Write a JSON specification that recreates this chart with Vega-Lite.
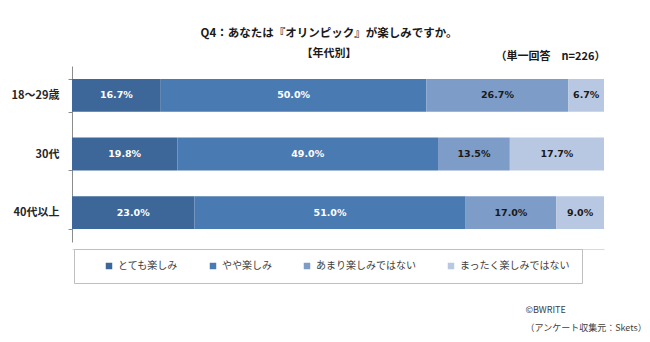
{
  "$schema": "https://vega.github.io/schema/vega-lite/v6.json",
  "width": 532,
  "height": 176,
  "autosize": {"type": "none"},
  "padding": {"left": 72, "top": 66, "right": 46, "bottom": 100},
  "background": "white",
  "title": {
    "text": "Q4：あなたは『オリンピック』が楽しみですか。",
    "subtitle": "【年代別】",
    "anchor": "middle",
    "frame": "group",
    "dx": -9,
    "offset": -9,
    "font": "Noto Sans CJK JP",
    "fontSize": 11.5,
    "fontWeight": "bold",
    "color": "#1a1a1a",
    "subtitleFont": "Noto Sans CJK JP",
    "subtitleFontSize": 11,
    "subtitleFontWeight": "bold",
    "subtitleColor": "#1a1a1a",
    "subtitlePadding": 9
  },
  "config": {"view": {"stroke": null}},
  "data": {
    "values": [
      {"age": "18～29歳", "cat": "とても楽しみ", "idx": 1, "value": 0.167},
      {"age": "18～29歳", "cat": "やや楽しみ", "idx": 2, "value": 0.5},
      {"age": "18～29歳", "cat": "あまり楽しみではない", "idx": 3, "value": 0.267},
      {"age": "18～29歳", "cat": "まったく楽しみではない", "idx": 4, "value": 0.067},
      {"age": "30代", "cat": "とても楽しみ", "idx": 1, "value": 0.198},
      {"age": "30代", "cat": "やや楽しみ", "idx": 2, "value": 0.49},
      {"age": "30代", "cat": "あまり楽しみではない", "idx": 3, "value": 0.135},
      {"age": "30代", "cat": "まったく楽しみではない", "idx": 4, "value": 0.177},
      {"age": "40代以上", "cat": "とても楽しみ", "idx": 1, "value": 0.23},
      {"age": "40代以上", "cat": "やや楽しみ", "idx": 2, "value": 0.51},
      {"age": "40代以上", "cat": "あまり楽しみではない", "idx": 3, "value": 0.17},
      {"age": "40代以上", "cat": "まったく楽しみではない", "idx": 4, "value": 0.09}
    ]
  },
  "encoding": {
    "y": {
      "field": "age",
      "type": "nominal",
      "sort": ["18～29歳", "30代", "40代以上"],
      "scale": {"paddingInner": 0.44, "paddingOuter": 0.22},
      "axis": {
        "title": "（単一回答　n=226）",
        "titleAngle": 0,
        "titleX": 423,
        "titleY": -10,
        "titleAlign": "left",
        "titleBaseline": "middle",
        "titleFont": "Noto Sans CJK JP",
        "titleFontSize": 11,
        "titleFontWeight": "bold",
        "titleColor": "#1a1a1a",
        "domainColor": "#8c8c8c",
        "tickColor": "#8c8c8c",
        "tickSize": 4,
        "tickBand": "extent",
        "labelPadding": 9,
        "labelFont": "Noto Sans CJK JP",
        "labelFontSize": 11,
        "labelFontWeight": "bold",
        "labelColor": "#262626",
        "grid": false
      }
    }
  },
  "layer": [
    {
      "mark": {"type": "bar"},
      "encoding": {
        "x": {
          "field": "value",
          "type": "quantitative",
          "stack": "normalize",
          "axis": {
            "offset": 7,
            "domainColor": "#d9d9d9",
            "labels": false,
            "ticks": false,
            "grid": false,
            "title": ["©BWRITE", "（アンケート収集元：Skets）"],
            "titleX": 453,
            "titleY": 56,
            "titleAlign": "left",
            "titleBaseline": "top",
            "titleFont": "Noto Sans CJK JP",
            "titleFontSize": 9,
            "titleFontWeight": "normal",
            "titleColor": "#404040",
            "titleLineHeight": 18
          }
        },
        "color": {
          "field": "cat",
          "type": "nominal",
          "scale": {
            "domain": ["とても楽しみ", "やや楽しみ", "あまり楽しみではない", "まったく楽しみではない"],
            "range": ["#3d6799", "#4a7ab2", "#7e9cc8", "#b9c8e2"]
          },
          "legend": {
            "orient": "none",
            "legendX": 2,
            "legendY": 183,
            "direction": "horizontal",
            "title": " ",
            "titleOrient": "left",
            "titlePadding": 18,
            "titleFontSize": 10,
            "padding": 12,
            "columnPadding": 30,
            "labelOffset": 4,
            "symbolType": "square",
            "symbolSize": 42,
            "symbolStrokeWidth": 0,
            "labelFont": "Noto Sans CJK JP",
            "labelFontSize": 10,
            "labelColor": "#404040",
            "strokeColor": "#bfbfbf",
            "fillColor": "white"
          }
        },
        "order": {"field": "idx", "type": "quantitative"}
      }
    },
    {
      "mark": {"type": "text", "font": "DejaVu Sans", "fontSize": 9.5, "fontWeight": "bold"},
      "encoding": {
        "x": {"field": "value", "type": "quantitative", "stack": "normalize", "bandPosition": 0.5},
        "detail": {"field": "cat", "type": "nominal"},
        "order": {"field": "idx", "type": "quantitative"},
        "text": {"field": "value", "type": "quantitative", "format": ".1%"},
        "color": {
          "condition": {"test": "datum.idx <= 2", "value": "white"},
          "value": "#1a1a1a"
        }
      }
    }
  ]
}
